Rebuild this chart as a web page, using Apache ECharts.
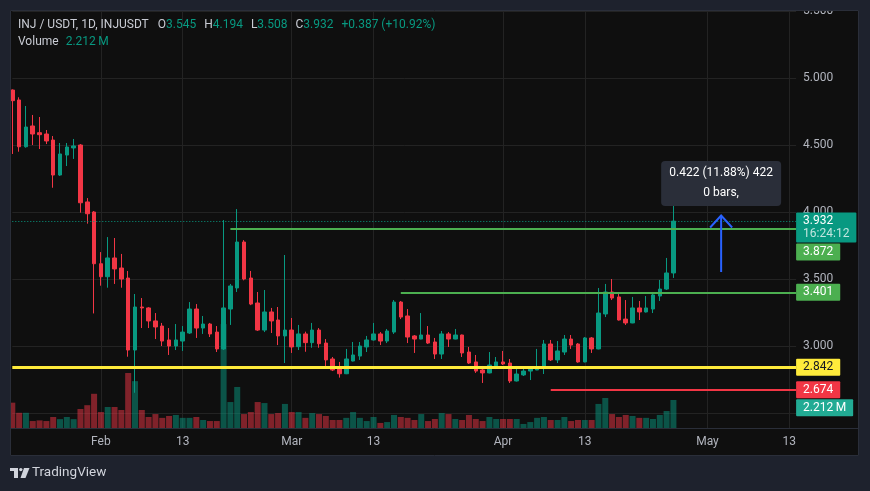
<!DOCTYPE html>
<html><head><meta charset="utf-8">
<script src="https://cdn.jsdelivr.net/npm/echarts@6/dist/echarts.min.js"></script>
<style>html,body{margin:0;padding:0;background:#1e222d;overflow:hidden}#c{width:870px;height:491px}</style>
</head><body><div id="c"></div>
<script>
// ---------- data ----------
const startDate = '2022-01-19';
const dayCount = 116;            // axis runs Jan 19 .. May 14
const open = [4.910,4.836,4.487,4.642,4.592,4.582,4.537,4.276,4.425,4.478,
  4.500,4.075,4.000,3.614,3.517,3.657,3.582,3.507,2.970,3.291,
  3.284,3.187,3.149,3.045,3.000,3.037,3.097,3.276,3.134,3.164,
  3.104,2.978,3.276,3.433,3.776,3.507,3.321,3.119,3.254,3.194,
  3.075,3.119,2.995,3.090,3.025,3.119,3.022,2.903,2.828,2.793,
  2.888,2.925,2.993,3.045,3.090,3.037,3.104,3.328,3.224,3.075,
  3.052,3.082,3.030,2.940,3.090,3.052,3.082,2.955,2.881,2.821,
  2.799,2.851,2.881,2.873,2.739,2.784,2.813,2.821,2.843,3.015,
  2.896,2.955,3.052,3.015,2.881,3.060,2.978,3.239,3.403,3.366,
  3.201,3.172,3.284,3.254,3.276,3.373,3.425,3.545];
const close = [4.831,4.487,4.634,4.582,4.577,4.530,4.276,4.433,4.485,4.493,
  4.069,3.987,3.614,3.517,3.657,3.575,3.500,2.970,3.291,3.284,
  3.187,3.142,3.037,3.000,3.045,3.104,3.276,3.134,3.164,3.090,
  2.978,3.284,3.448,3.776,3.500,3.313,3.119,3.254,3.187,3.075,
  3.119,2.993,3.090,3.025,3.119,3.017,2.896,2.821,2.793,2.903,
  2.933,3.000,3.045,3.090,3.037,3.112,3.328,3.216,3.067,3.052,
  3.082,3.022,2.940,3.090,3.052,3.082,2.948,2.873,2.813,2.799,
  2.858,2.881,2.866,2.739,2.791,2.813,2.828,2.843,3.015,2.896,
  2.963,3.052,3.007,2.881,3.060,2.978,3.246,3.403,3.358,3.194,
  3.172,3.284,3.254,3.284,3.381,3.425,3.545,3.932];
const low = [4.433,4.450,4.480,4.500,4.470,4.507,4.181,4.269,4.343,4.396,
  3.995,3.913,3.243,3.450,3.435,3.463,3.435,2.920,2.651,3.134,
  3.134,3.052,3.000,2.933,2.970,2.963,3.090,3.060,3.090,3.067,
  2.955,2.970,3.157,3.403,3.490,3.305,3.112,3.104,3.097,3.007,
  2.873,2.948,2.970,2.957,2.987,2.987,2.836,2.813,2.764,2.790,
  2.885,2.896,2.955,3.040,3.007,3.022,3.090,3.201,3.022,2.948,
  3.050,3.015,2.903,2.903,2.993,3.050,2.918,2.866,2.799,2.724,
  2.796,2.828,2.858,2.724,2.735,2.776,2.746,2.820,2.791,2.888,
  2.873,2.933,2.978,2.875,2.878,2.948,2.975,3.216,3.343,3.190,
  3.157,3.170,3.194,3.250,3.246,3.336,3.418,3.508];
const high = [4.915,4.856,4.791,4.724,4.709,4.612,4.567,4.515,4.515,4.545,
  4.507,4.104,4.007,3.701,3.813,3.806,3.687,3.560,3.388,3.358,
  3.290,3.246,3.172,3.134,3.164,3.149,3.328,3.313,3.224,3.172,
  3.149,3.940,3.463,4.022,3.790,3.560,3.403,3.418,3.284,3.291,
  3.679,3.209,3.157,3.107,3.172,3.134,3.052,2.918,2.881,2.978,
  3.030,3.030,3.075,3.172,3.104,3.127,3.343,3.336,3.276,3.082,
  3.246,3.149,3.060,3.112,3.104,3.127,3.085,2.993,2.933,2.851,
  2.955,2.918,2.963,2.903,2.851,2.836,2.830,2.978,3.045,3.045,
  3.037,3.082,3.082,3.022,3.067,3.067,3.433,3.463,3.500,3.388,
  3.343,3.366,3.336,3.373,3.403,3.493,3.657,4.194];
const volume = [2.0,1.2,1.2,0.55,0.6,0.55,0.87,0.7,0.87,0.7,
  1.5,1.8,2.7,1.26,1.66,1.66,1.42,4.34,3.7,1.42,
  0.87,1.1,0.8,0.95,1.03,0.8,0.8,0.87,0.63,0.55,
  0.55,8.2,2.05,3.24,1.1,1.26,2.05,1.97,1.1,1.18,
  1.9,1.26,1.26,0.8,1.18,1.1,0.95,0.63,0.63,0.8,
  1.26,0.8,0.55,0.87,0.4,0.47,1.03,0.87,0.8,0.63,
  1.1,0.55,0.71,1.18,1.1,0.71,0.63,1.03,0.71,0.55,
  0.87,0.71,0.71,0.71,0.71,0.32,0.47,0.8,0.87,0.63,
  0.63,0.87,0.55,0.63,0.63,0.63,1.9,2.37,1.1,0.87,
  1.03,0.95,0.8,0.8,0.71,1.03,1.34,2.212]; // millions
const tickDates = ['2022-02-01','2022-02-13','2022-03-01','2022-03-13','2022-04-01','2022-04-13','2022-05-01','2022-05-13'];
const tickTexts = ['Feb','13','Mar','13','Apr','13','May','13'];
const levelValues = [3.872, 3.401, 2.842, 2.674];
const levelStarts = ['2022-02-20','2022-03-17','2022-01-19','2022-04-08'];
const levelColors = ['#4caf50','#4caf50','#ffeb3b','#f23645'];
const levelTextColors = ['#ffffff','#ffffff','#131722','#ffffff'];
const levelWidths = [2, 2, 3, 2];
const measureDate = '2022-05-03';
const measureFrom = 3.552;
const measureTo = 3.974;
const countdown = '16:24:12';
const symbolTitle = 'INJ / USDT, 1D, INJUSDT';

// ---------- build ----------
const dates = [];
(function(){ const d0 = new Date(startDate + 'T00:00:00Z');
  for (let i = 0; i < dayCount; i++) dates.push(new Date(d0.getTime() + i*86400000).toISOString().slice(0,10)); })();
const lastDate = dates[dates.length-1];
const n = open.length;
const lastOpen = open[n-1], lastClose = close[n-1], lastHigh = high[n-1], lastLow = low[n-1], lastVol = volume[n-1];
const UP = '#089981', DOWN = '#f23645';
const FONT = 'Roboto';
const candleData = open.map((o,i)=>[o, close[i], low[i], high[i]]);
const volData = volume.map((v,i)=>({value:v, itemStyle:{color: close[i] >= open[i] ? 'rgba(8,153,129,0.5)' : 'rgba(242,54,69,0.5)'}}));
const tickMap = {}; tickDates.forEach((d,i)=>{ tickMap[d] = tickTexts[i]; });
const isTick = (idx, val) => tickMap[val !== undefined ? val : dates[idx]] !== undefined || tickMap[dates[idx]] !== undefined;

const markData = levelValues.map((v,k)=>[
  {coord:[levelStarts[k], v], lineStyle:{color:levelColors[k], width:levelWidths[k], type:'solid'}},
  {coord:[lastDate, v]}
]);
markData.push([{coord:[dates[0], lastClose], lineStyle:{color:UP, width:1, type:[1,2]}}, {coord:[lastDate, lastClose]}]);

const chart = echarts.init(document.getElementById('c'), null, {renderer:'canvas', width:870, height:491});
chart.setOption({
  backgroundColor:'#1e222d',
  animation:false,
  grid:[
    {left:12.3, right:73.9, top:11, bottom:78, outerBoundsMode:'none'},
    {left:12.3, right:73.9, top:10, bottom:63, outerBoundsMode:'none'}
  ],
  xAxis:[
    {type:'category', gridIndex:0, data:dates, boundaryGap:false, show:false},
    {type:'category', gridIndex:1, data:dates, boundaryGap:false,
     axisLine:{show:false}, axisTick:{show:false},
     axisLabel:{interval:isTick, formatter:v=>tickMap[v]||'', color:'#b2b5be', fontSize:12, fontFamily:FONT, margin:8, hideOverlap:false},
     splitLine:{show:true, interval:isTick, lineStyle:{color:'#232323', width:1}}}
  ],
  yAxis:[
    {type:'value', gridIndex:0, position:'right', min:2.5, max:5.5, interval:0.5, scale:false,
     axisLine:{show:false}, axisTick:{show:false},
     axisLabel:{formatter:v=>v.toFixed(3), color:'#b2b5be', fontSize:12, fontFamily:FONT, margin:7, showMinLabel:true, showMaxLabel:true},
     splitLine:{lineStyle:{color:'#232323', width:1}}},
    {type:'value', gridIndex:1, min:0, max:33, show:false, splitLine:{show:false}}
  ],
  series:[
    {type:'bar', xAxisIndex:1, yAxisIndex:1, data:volData, barWidth:6, clip:false, silent:true, z:1},
    {type:'candlestick', xAxisIndex:0, yAxisIndex:0, data:candleData, barWidth:4, clip:false, silent:true, z:3,
     itemStyle:{color:UP, color0:DOWN, borderColor:UP, borderColor0:DOWN, borderWidth:1},
     markLine:{symbol:['none','none'], silent:true, label:{show:false}, data:markData, animation:false}}
  ]
});

// ---------- overlays ----------
const ctx = document.createElement('canvas').getContext('2d');
function tw(s, size, weight){ ctx.font = (weight||'normal') + ' ' + size + 'px ' + FONT; return ctx.measureText(s).width; }
function T(s, x, y, fill, size, align, weight){
  return {type:'text', z:60, style:{text:s, x:x, y:y, fill:fill, font:(weight||'normal')+' '+size+'px '+FONT,
    textAlign:align||'left', align:align||'left', textVerticalAlign:'middle', verticalAlign:'middle'}};
}
function R(x,y,w,h,fill,z,r){ return {type:'rect', z:z||50, shape:{x:x,y:y,width:w,height:h,r:r||0}, style:{fill:fill}}; }
const py = v => chart.convertToPixel({yAxisIndex:0}, v);
const rightX = chart.convertToPixel({xAxisIndex:0}, lastDate);
const els = [];
// panel
els.push({type:'rect', z:-10, shape:{x:10,y:10,width:849,height:446}, style:{fill:'#0f0f0f'}});
els.push(R(0,0,870,10,'#1e222d',90));
els.push(R(0,0,10,491,'#1e222d',90));
els.push({type:'rect', z:95, shape:{x:10.5,y:10.5,width:848,height:445}, style:{fill:'none', stroke:'#2a2e39', lineWidth:1}});
els.push({type:'line', z:5, shape:{x1:10,y1:428.5,x2:859,y2:428.5}, style:{stroke:'#2a2e39', lineWidth:1}});

// right-axis labels with collision push-down
const labels = [];
labels.push({y:py(lastClose), lines:[lastClose.toFixed(3), countdown], fill:UP, color:'#ffffff', h:30});
levelValues.forEach((v,k)=>labels.push({y:py(v), lines:[v.toFixed(3)], fill:levelColors[k], color:levelTextColors[k], h:17}));
labels.push({y:chart.convertToPixel({yAxisIndex:1}, lastVol), lines:[lastVol.toFixed(3)+'\u2009M'], fill:'#22ab94', color:'#ffffff', h:17});
labels.sort((a,b)=>a.y-b.y);
let prevBottom = -1e9;
labels.forEach(L=>{
  let top = Math.max(L.y - 8.5, prevBottom + 1);
  prevBottom = top + L.h;
  const w = Math.max.apply(null, L.lines.map(s=>tw(s,12))) + 14;
  els.push(R(rightX, top, w, L.h, L.fill, 70, 1));
  L.lines.forEach((s,j)=>{
    const t = T(s, rightX + 7, top + 8.5 + j*13, j===0 ? L.color : 'rgba(255,255,255,0.75)', 12);
    t.z = 71; els.push(t);
  });
});

// measurement arrow + box
const ax = chart.convertToPixel({xAxisIndex:0}, measureDate);
const yF = py(measureFrom), yT = py(measureTo);
els.push({type:'line', z:40, shape:{x1:ax,y1:yF,x2:ax,y2:yT}, style:{stroke:'#2962ff', lineWidth:2}});
els.push({type:'polyline', z:40, shape:{points:[[ax-11,yT+12],[ax,yT],[ax+11,yT+12]]}, style:{stroke:'#2962ff', lineWidth:2, fill:'none'}});
const diff = measureTo - measureFrom;
const mText = diff.toFixed(3) + ' (' + (diff/measureFrom*100).toFixed(2) + '%) ' + Math.round(diff*1000);
els.push(R(ax-60, yT-54.5, 120, 45, '#2a2e39', 40, 4));
els.push(T(mText, ax, yT-42.5, '#ffffff', 12, 'center'));
els.push(T('0 bars,', ax, yT-22.5, '#ffffff', 12, 'center'));

// header legend
const chg = lastClose - lastOpen;
const HS = 12;
const parts = [
  [symbolTitle,'#c9ccd4',9],['O','#c9ccd4',0],[lastOpen.toFixed(3),UP,8],
  ['H','#c9ccd4',0],[lastHigh.toFixed(3),UP,8],['L','#c9ccd4',0],[lastLow.toFixed(3),UP,8],
  ['C','#c9ccd4',0],[lastClose.toFixed(3),UP,8],
  [(chg>=0?'+':'')+chg.toFixed(3)+' ('+(chg>=0?'+':'')+(chg/lastOpen*100).toFixed(2)+'%)',UP,0]
];
let hx = 18;
parts.forEach(p=>{ els.push(T(p[0], hx, 25, p[1], HS)); hx += tw(p[0],HS) + p[2]; });
els.push(T('Volume', 18, 42, '#c9ccd4', HS));
els.push(T(lastVol.toFixed(3)+'\u2009M', 18 + tw('Volume',HS) + 7, 42, UP, HS));

// TradingView logo
els.push(R(10,468,8,3,'#d1d4dc',60));
els.push(R(14,468,4,10,'#d1d4dc',60));
els.push({type:'circle', z:60, shape:{cx:20.8, cy:469.6, r:1.7}, style:{fill:'#d1d4dc'}});
els.push({type:'polygon', z:60, shape:{points:[[24,468],[29.5,468],[25.5,478],[20.5,478]]}, style:{fill:'#d1d4dc'}});
els.push(T('TradingView', 32, 473, '#d1d4dc', 13.5));

chart.setOption({graphic:{elements:els}});
</script></body></html>
